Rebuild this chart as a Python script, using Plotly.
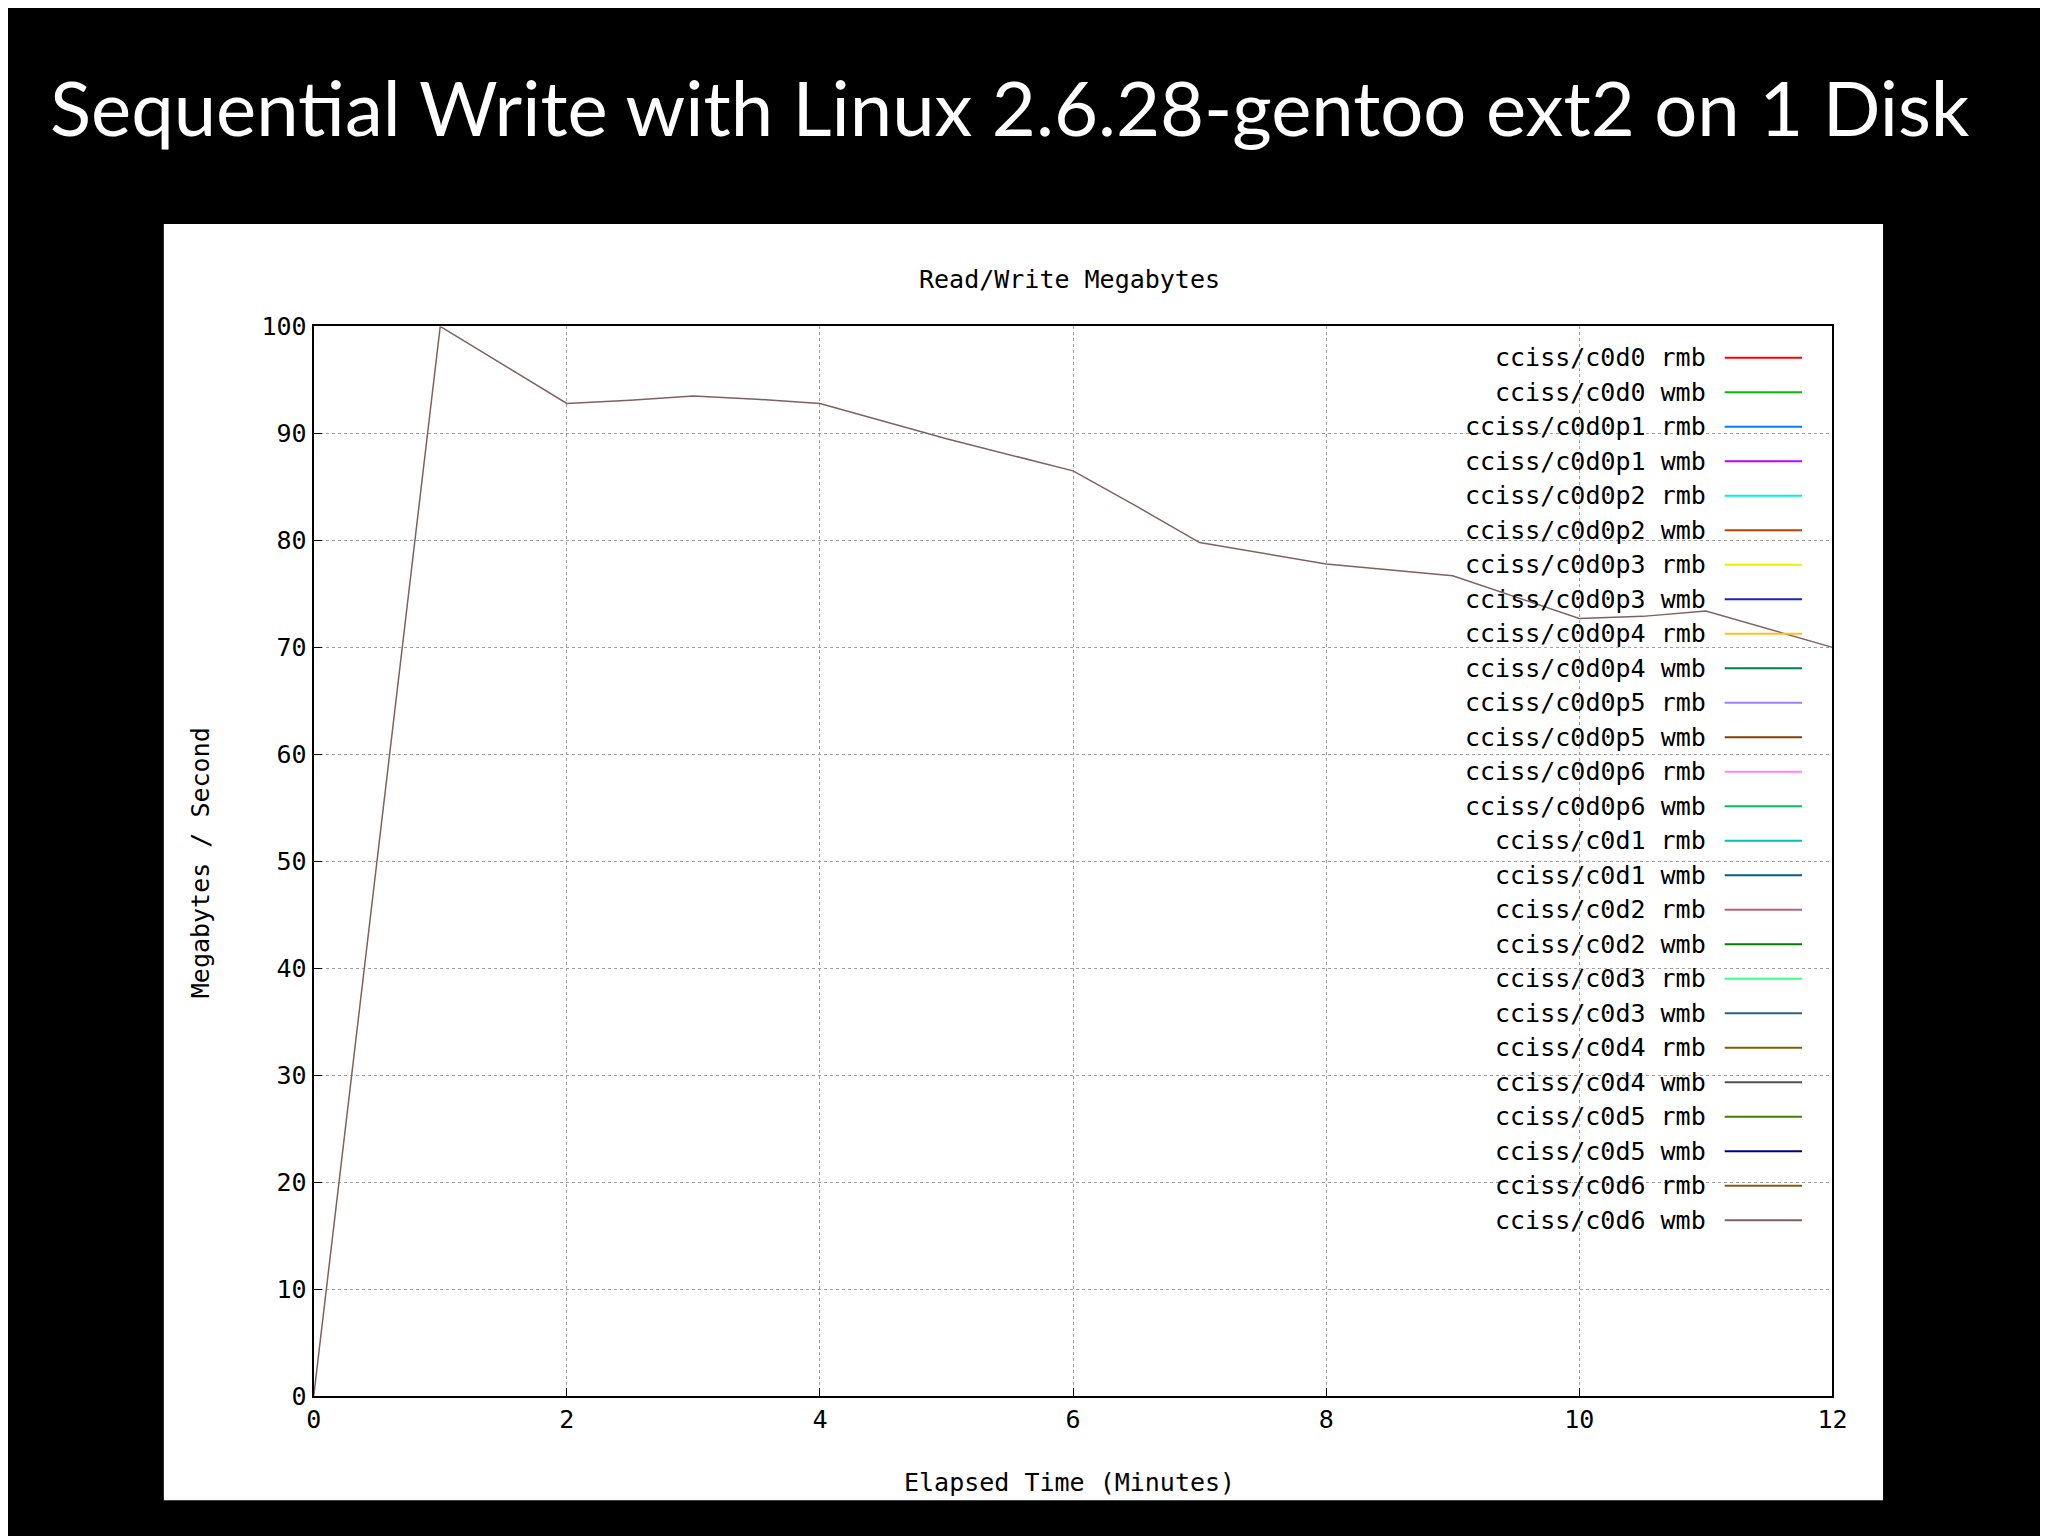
import plotly.graph_objects as go

# elapsed minutes and write rate of cciss/c0d6
minutes = [0, 1, 2, 2.5, 3, 3.5, 4, 5, 6, 6.5, 7, 8, 9, 10, 10.5, 11, 12]
c0d6_wmb = [0, 100, 92.8, 93.1, 93.5, 93.2, 92.8, 89.5, 86.5, 83.2, 79.8, 77.8, 76.7, 72.7, 72.9, 73.4, 70]

series_names = [
    "cciss/c0d0 rmb", "cciss/c0d0 wmb", "cciss/c0d0p1 rmb", "cciss/c0d0p1 wmb",
    "cciss/c0d0p2 rmb", "cciss/c0d0p2 wmb", "cciss/c0d0p3 rmb", "cciss/c0d0p3 wmb",
    "cciss/c0d0p4 rmb", "cciss/c0d0p4 wmb", "cciss/c0d0p5 rmb", "cciss/c0d0p5 wmb",
    "cciss/c0d0p6 rmb", "cciss/c0d0p6 wmb", "cciss/c0d1 rmb", "cciss/c0d1 wmb",
    "cciss/c0d2 rmb", "cciss/c0d2 wmb", "cciss/c0d3 rmb", "cciss/c0d3 wmb",
    "cciss/c0d4 rmb", "cciss/c0d4 wmb", "cciss/c0d5 rmb", "cciss/c0d5 wmb",
    "cciss/c0d6 rmb", "cciss/c0d6 wmb",
]
series_colors = [
    "#ff0000", "#00c000", "#0080ff", "#c000ff", "#00eeee", "#c04000",
    "#eeee00", "#2020c0", "#ffc020", "#008040", "#a080ff", "#804000",
    "#ff80ff", "#00c060", "#00c0c0", "#006080", "#c06080", "#008000",
    "#40ff80", "#306080", "#806000", "#505050", "#408000", "#000080",
    "#806010", "#806060",
]

mono = "DejaVu Sans Mono"
fsize = 25
fig = go.Figure()

fig.add_trace(go.Scatter(x=minutes, y=c0d6_wmb, mode="lines",
                         line=dict(color=series_colors[-1], width=1.5),
                         showlegend=False))

# white plot panel (paper == whole figure, margins are zero)
fig.add_shape(type="rect", xref="paper", yref="paper", x0=0.073, x1=0.922,
              y0=0.019, y1=0.866, fillcolor="white", line_width=0, layer="below")

# gnuplot style legend: text then line sample on the right
x_text, x_l0, x_l1 = 0.8355, 0.8438, 0.882
y_top, y_step = 0.7772, 0.02289
fig.add_shape(type="rect", xref="paper", yref="paper",
              x0=0.706, x1=0.894, y0=0.195, y1=0.785,
              fillcolor="white", line_width=0, layer="below")
for i, (name, color) in enumerate(zip(series_names, series_colors)):
    y = y_top - i * y_step
    fig.add_annotation(x=x_text, y=y, xref="paper", yref="paper", text=name,
                       showarrow=False, xanchor="right", yanchor="middle",
                       font=dict(family=mono, size=fsize, color="black"))
    fig.add_shape(type="line", xref="paper", yref="paper", x0=x_l0, x1=x_l1,
                  y0=y, y1=y, line=dict(color=color, width=2))

fig.add_annotation(x=0.016, y=0.944, xref="paper", yref="paper",
                   text="Sequential Write with Linux 2.6.28-gentoo ext2 on 1 Disk",
                   showarrow=False, xanchor="left", yanchor="middle",
                   font=dict(family="Lato", size=76, color="white"))
fig.add_annotation(x=0.520, y=0.829, xref="paper", yref="paper",
                   text="Read/Write Megabytes", showarrow=False,
                   xanchor="center", yanchor="middle",
                   font=dict(family=mono, size=fsize, color="black"))
fig.add_annotation(x=0.520, y=0.031, xref="paper", yref="paper",
                   text="Elapsed Time (Minutes)", showarrow=False,
                   xanchor="center", yanchor="middle",
                   font=dict(family=mono, size=fsize, color="black"))
fig.add_annotation(x=0.0915, y=0.442, xref="paper", yref="paper",
                   text="Megabytes / Second", showarrow=False, textangle=-90,
                   xanchor="center", yanchor="middle",
                   font=dict(family=mono, size=fsize, color="black"))

axis_common = dict(showline=True, linecolor="black", linewidth=2, mirror=True,
                   ticks="inside", ticklen=8, tickcolor="black",
                   showgrid=True, gridcolor="#a0a0a0", griddash="dot", gridwidth=1,
                   zeroline=False,
                   tickfont=dict(family=mono, size=fsize, color="black"))

fig.update_xaxes(range=[0, 12], tickvals=list(range(0, 13, 2)),
                 domain=[0.147, 0.897], **axis_common)
fig.update_yaxes(range=[0, 100], tickvals=list(range(0, 101, 10)),
                 domain=[0.088, 0.798], **axis_common)

fig.update_layout(width=2048, height=1536, paper_bgcolor="black",
                  plot_bgcolor="white", margin=dict(l=0, r=0, t=0, b=0),
                  showlegend=False)

fig.write_html("out.html")
